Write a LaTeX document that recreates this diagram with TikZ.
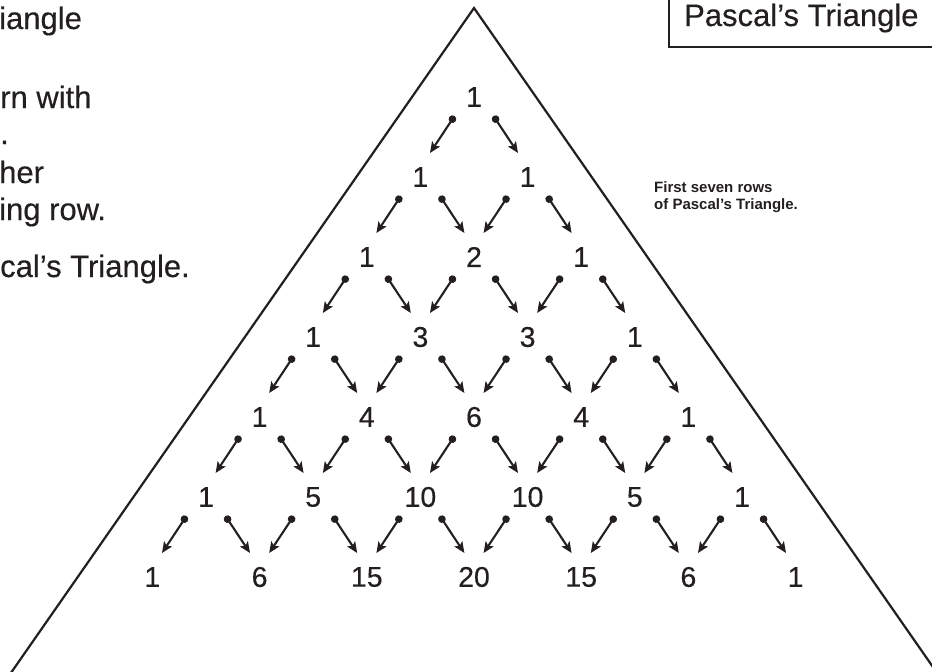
\documentclass[tikz,border=0pt]{standalone}
\usepackage{fontspec}
\setmainfont{Liberation Sans}
\newfontfamily\heavyfont{Liberation Sans}[FakeBold=0.35]
\usetikzlibrary{arrows.meta,calc}
\definecolor{ink}{HTML}{231F20}
\begin{document}
\begin{tikzpicture}[x=1pt,y=-1pt,
  num/.style={font=\heavyfont\fontsize{28.5}{28.5}\selectfont, text=ink, inner sep=0pt},
  txt/.style={font=\heavyfont\fontsize{31}{31}\selectfont, text=ink, inner sep=0pt, anchor=base west},
  note/.style={font=\fontsize{15}{16.5}\selectfont\bfseries, text=ink, inner sep=0pt, anchor=base west, align=left},
  arr/.style={ink, line width=2.1pt, {Circle[length=7.5pt]}-{Stealth[length=11pt,width=9.5pt,inset=2.5pt]}},
  frame/.style={ink, line width=2.2pt}]
\useasboundingbox (0,0) rectangle (932,672);
\clip (0,0) rectangle (932,672);
% big triangle
\coordinate (apex) at (474,8);
\coordinate (bl) at (6,680);
\coordinate (br) at (942,680);
\draw[frame, line join=miter] (apex) -- (bl) -- (br) -- cycle;
% title box
\node[txt] (title) at (684,26) {Pascal’s Triangle};
\draw[frame] (669,-10) rectangle (945,47);
% left text fragments
\node[txt] (t1) at (-1,29) {iangle};
\node[txt] (t2) at (0,108) {rn with};
\node[txt] (t3) at (0,144) {.};
\node[txt] (t4) at (-1,183) {her};
\node[txt] (t5) at (-1,220) {ing row.};
\node[txt] (t6) at (0,277) {cal’s Triangle.};
% note
\node[note] (nt) at (654,209) {First seven rows\\of Pascal’s Triangle.};
% numbers
\def\xo{474}\def\dx{53.6}\def\yo{97}\def\dy{80}
\foreach \r/\k/\v in {0/0/1, 1/0/1,1/1/1, 2/0/1,2/1/2,2/2/1, 3/0/1,3/1/3,3/2/3,3/3/1,
  4/0/1,4/1/4,4/2/6,4/3/4,4/4/1, 5/0/1,5/1/5,5/2/10,5/3/10,5/4/5,5/5/1,
  6/0/1,6/1/6,6/2/15,6/3/20,6/4/15,6/5/6,6/6/1}
  \node[num] (n-\r-\k) at ({\xo+(2*\k-\r)*\dx},{\yo+\r*\dy}) {\v};
% arrows
\foreach \r in {0,...,5}{
  \pgfmathtruncatemacro\rr{\r+1}
  \foreach \k in {0,...,\r}{
    \pgfmathtruncatemacro\kk{\k+1}
    \draw[arr] ($(n-\r-\k)+(-19.5,19)$) -- ($(n-\rr-\k)+(9.6,-24)$);
    \draw[arr] ($(n-\r-\k)+(19.5,19)$) -- ($(n-\rr-\kk)+(-9.6,-24)$);
  }}
\end{tikzpicture}
\end{document}
